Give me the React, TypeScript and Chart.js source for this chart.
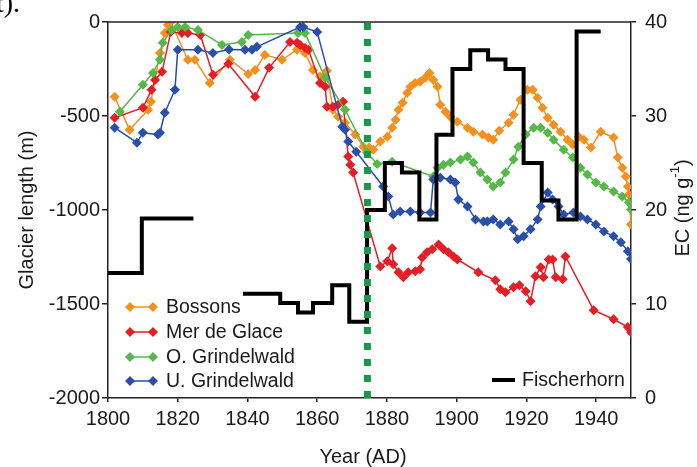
import React, { useEffect, useRef } from 'react';
import { Chart, registerables } from 'chart.js';
Chart.register(...registerables);

// ---------------- data ----------------
const bossonsYears = [1801.9, 1806.2, 1811.5, 1812.3, 1814.9, 1816.3, 1817.2, 1818, 1822.9, 1824.9, 1829.2, 1835, 1840.2, 1842.2, 1845, 1849.9, 1854.2, 1856.5, 1858.8, 1860.8, 1862.8, 1864.5, 1866, 1868, 1870.9, 1873.2, 1874.9, 1876.1, 1878.1, 1880.1, 1881.5, 1882.5, 1883.3, 1884.5, 1885.8, 1886.7, 1888.1, 1889.5, 1891, 1892.2, 1893.3, 1894.5, 1895.3, 1896.8, 1898.2, 1900.2, 1903.1, 1904.8, 1907.4, 1909.1, 1910.5, 1912.2, 1914.9, 1916.3, 1918.3, 1920.3, 1921.8, 1923.2, 1924.6, 1926.1, 1927.8, 1929.8, 1931.8, 1933.3, 1935, 1936.5, 1938.5, 1941.3, 1945, 1946.2, 1947.5, 1948.5, 1949.1, 1949.4, 1950];
const bossonsLength = [-398, -573, -467, -424, -165, -58, -16, 0, -201, -201, -324, -201, -276, -255, -175, -201, -148, -165, -255, -290, -259, -467, -504, -536, -599, -663, -668, -679, -636, -610, -562, -520, -467, -430, -377, -345, -324, -318, -297, -271, -308, -345, -440, -477, -504, -530, -562, -584, -599, -615, -626, -578, -536, -493, -414, -361, -361, -403, -456, -509, -546, -584, -626, -652, -610, -626, -668, -584, -615, -721, -775, -822, -875, -918, -1077];

const merYears = [1801.9, 1810, 1812.5, 1813.5, 1815.5, 1818, 1821.2, 1822.9, 1826.5, 1830.1, 1834.5, 1842.2, 1846.2, 1852.2, 1854.2, 1855.1, 1856.5, 1857.5, 1860.8, 1862.3, 1862.8, 1864.5, 1866, 1867.4, 1868.9, 1869.5, 1870.3, 1878.1, 1880.1, 1881.5, 1881.8, 1883.3, 1884.7, 1886.1, 1888.1, 1889.5, 1890.1, 1891.5, 1893, 1894.8, 1896.2, 1897.6, 1899.1, 1900.2, 1906.2, 1911.1, 1912.5, 1914, 1916.3, 1918, 1919.8, 1921.2, 1922.6, 1924.1, 1924.9, 1926.4, 1927.5, 1928.4, 1930.4, 1931.2, 1939.3, 1945, 1949.1, 1950];
const merLength = [-509, -456, -361, -308, -265, -53, -58, -58, -69, -281, -222, -398, -244, -106, -111, -122, -138, -148, -324, -345, -451, -451, -440, -424, -716, -759, -801, -1300, -1273, -1204, -1289, -1331, -1358, -1331, -1326, -1315, -1252, -1225, -1209, -1183, -1209, -1225, -1247, -1263, -1331, -1374, -1422, -1438, -1411, -1400, -1432, -1485, -1352, -1305, -1358, -1263, -1263, -1358, -1369, -1247, -1533, -1581, -1623, -1650];

const oGrinYears = [1803.4, 1810, 1812.9, 1814.9, 1815.7, 1818.3, 1820, 1822.1, 1825.8, 1832.7, 1838.4, 1840.2, 1854.5, 1856.5, 1862.3, 1868, 1874.3, 1877.2, 1881.5, 1893.3, 1894.5, 1896.2, 1898.2, 1901.1, 1903.1, 1904.8, 1906.8, 1908.8, 1910.5, 1912.5, 1914, 1916.3, 1917.7, 1919.8, 1922.1, 1924.1, 1926.1, 1927.8, 1930.7, 1933.3, 1935.5, 1937.5, 1939.9, 1942.2, 1945, 1947.5, 1949.4, 1950];
const oGrinLength = [-477, -334, -271, -201, -111, -42, -27, -27, -42, -122, -106, -69, -58, -58, -297, -467, -695, -755, -743, -822, -775, -759, -748, -732, -716, -748, -801, -838, -875, -854, -801, -732, -663, -599, -562, -562, -589, -626, -679, -721, -775, -811, -854, -875, -901, -928, -960, -997];

const uGrinYears = [1801.9, 1808.3, 1810, 1814.3, 1814.9, 1816.3, 1819.2, 1820, 1825.8, 1830.1, 1834.7, 1839.3, 1841.3, 1842.7, 1855.1, 1856, 1860, 1867.2, 1868, 1868.9, 1871.2, 1878.9, 1880.4, 1881.8, 1883.8, 1886.7, 1889.5, 1892.5, 1893.3, 1895.3, 1898.2, 1899.6, 1900.5, 1903.1, 1905.4, 1907.7, 1908.8, 1910.5, 1912.5, 1914.9, 1916.3, 1917.5, 1919.2, 1921.2, 1923.2, 1924.1, 1926.1, 1927.5, 1929.2, 1930.7, 1933.5, 1935.5, 1937.5, 1939.9, 1942.2, 1945, 1947.1, 1949.1, 1950];
const uGrinLength = [-562, -642, -589, -599, -589, -483, -361, -148, -148, -165, -146, -148, -148, -132, -27, -27, -53, -557, -573, -636, -690, -875, -928, -1024, -1008, -1008, -1013, -1013, -838, -828, -838, -854, -944, -981, -1050, -1061, -1061, -1050, -1077, -1061, -1103, -1156, -1140, -1103, -1050, -981, -907, -944, -981, -1024, -1013, -1034, -1050, -1077, -1114, -1140, -1172, -1220, -1260];

// Fischerhorn EC (step series, value holds until next year; null = gap)
const ecYears = [1800, 1809.7, 1824.5, 1830, 1838.7, 1849.4, 1854.5, 1858.8, 1864.3, 1869.2, 1874.3, 1879.4, 1884.3, 1889.3, 1894.2, 1898.8, 1903.9, 1909, 1914, 1919.2, 1924.4, 1929.2, 1934.4, 1941.3];
const ecValues = [13.3, 19.1, 19.1, null, 11.1, 10.1, 9.1, 10.1, 12, 8.1, 20, 25, 24, 19, 28, 35, 37, 36, 35, 25, 21, 19, 39, 39];

const markerYear = 1874.4;

const xTicks = [1800, 1820, 1840, 1860, 1880, 1900, 1920, 1940];
const yTicks = [-2000, -1500, -1000, -500, 0];
const y2Ticks = [0, 10, 20, 30, 40];

const seriesNames = ['Bossons', 'Mer de Glace', 'O. Grindelwald', 'U. Grindelwald'];
const seriesColors = ['#F4901E', '#E41E26', '#55B848', '#2A4FA8'];

// ---------------- chart ----------------
const FONT = '"Liberation Sans", Arial, sans-serif';
const TXT = '#1a1a1a';

const zip = (xs: number[], ys: (number | null)[]) => xs.map((x, i) => ({ x, y: ys[i] }));

function drawDiamond(ctx: CanvasRenderingContext2D, x: number, y: number, r: number) {
  ctx.beginPath();
  ctx.moveTo(x, y - r);
  ctx.lineTo(x + r, y);
  ctx.lineTo(x, y + r);
  ctx.lineTo(x - r, y);
  ctx.closePath();
  ctx.fill();
}

const decorPlugin = {
  id: 'decor',
  afterDatasetsDraw(chart: any) {
    const { ctx, chartArea, scales } = chart;
    const xp = scales.x.getPixelForValue(markerYear);
    ctx.save();
    ctx.strokeStyle = '#17994A';
    ctx.lineWidth = 7;
    ctx.setLineDash([7, 9]);
    ctx.beginPath();
    ctx.moveTo(xp, chartArea.top + 1);
    ctx.lineTo(xp, chartArea.bottom);
    ctx.stroke();
    ctx.restore();
  },
  afterDraw(chart: any) {
    const { ctx, chartArea } = chart;
    ctx.save();
    // top frame line
    ctx.strokeStyle = '#222';
    ctx.lineWidth = 1.5;
    ctx.beginPath();
    ctx.moveTo(chartArea.left, chartArea.top);
    ctx.lineTo(chartArea.right, chartArea.top);
    ctx.stroke();

    // axis titles
    ctx.fillStyle = TXT;
    ctx.font = `20px ${FONT}`;
    ctx.textAlign = 'center';
    ctx.textBaseline = 'middle';
    ctx.fillText('Year (AD)', 363, 457);

    ctx.save();
    ctx.translate(27, 210);
    ctx.rotate(-Math.PI / 2);
    ctx.fillText('Glacier length (m)', 0, 0);
    ctx.restore();

    // right title with superscript
    ctx.save();
    ctx.translate(683, 208);
    ctx.rotate(-Math.PI / 2);
    const main = 'EC (ng g';
    const sup = '-1';
    const close = ')';
    ctx.font = `20px ${FONT}`;
    const wMain = ctx.measureText(main).width;
    const wClose = ctx.measureText(close).width;
    ctx.font = `13px ${FONT}`;
    const wSup = ctx.measureText(sup).width;
    const total = wMain + wSup + wClose;
    let cx = -total / 2;
    ctx.textAlign = 'left';
    ctx.font = `20px ${FONT}`;
    ctx.fillText(main, cx, 0);
    cx += wMain;
    ctx.font = `13px ${FONT}`;
    ctx.fillText(sup, cx, -8);
    cx += wSup;
    ctx.font = `20px ${FONT}`;
    ctx.fillText(close, cx, 0);
    ctx.restore();

    // legend for glaciers
    const ly = [307, 332, 357, 381];
    ctx.font = `19.5px ${FONT}`;
    ctx.textAlign = 'left';
    ctx.textBaseline = 'middle';
    seriesNames.forEach((name, i) => {
      const c = seriesColors[i];
      ctx.strokeStyle = c;
      ctx.fillStyle = c;
      ctx.lineWidth = 1.5;
      ctx.beginPath();
      ctx.moveTo(130, ly[i]);
      ctx.lineTo(153, ly[i]);
      ctx.stroke();
      drawDiamond(ctx, 130, ly[i], 5);
      drawDiamond(ctx, 153, ly[i], 5);
      ctx.fillStyle = TXT;
      ctx.fillText(name, 166, ly[i] + 1);
    });

    // Fischerhorn legend
    ctx.strokeStyle = '#000';
    ctx.lineWidth = 4;
    ctx.beginPath();
    ctx.moveTo(492, 380);
    ctx.lineTo(515, 380);
    ctx.stroke();
    ctx.fillStyle = TXT;
    ctx.fillText('Fischerhorn', 522, 381);

    // stray caption fragment at top-left
    ctx.font = `28px "Liberation Serif", serif`;
    ctx.textBaseline = 'alphabetic';
    ctx.fillStyle = '#000';
    ctx.fillText('t).', -4, 12);
    ctx.restore();
  },
};

export default function App() {
  const ref = useRef<HTMLCanvasElement>(null);
  useEffect(() => {
    const glacier = (i: number, xs: number[], ys: number[], order: number) => ({
      label: seriesNames[i],
      data: zip(xs, ys),
      yAxisID: 'y',
      borderColor: seriesColors[i],
      backgroundColor: seriesColors[i],
      borderWidth: 1.5,
      pointStyle: 'rectRot',
      pointRadius: 5,
      pointBorderWidth: 0,
      pointBackgroundColor: seriesColors[i],
      pointBorderColor: seriesColors[i],
      tension: 0,
      order,
    });
    const tickFont = { family: FONT, size: 20 };
    const chart = new Chart(ref.current as HTMLCanvasElement, {
      type: 'line',
      data: {
        datasets: [
          glacier(0, bossonsYears, bossonsLength, 5),
          glacier(1, merYears, merLength, 4),
          glacier(2, oGrinYears, oGrinLength, 3),
          glacier(3, uGrinYears, uGrinLength, 2),
          {
            label: 'Fischerhorn',
            data: zip(ecYears, ecValues),
            yAxisID: 'y2',
            borderColor: '#000',
            backgroundColor: '#000',
            borderWidth: 4,
            pointRadius: 0,
            stepped: 'before',
            spanGaps: false,
            borderJoinStyle: 'miter',
            borderCapStyle: 'butt',
            order: 1,
          } as any,
        ],
      },
      options: {
        responsive: false,
        animation: false,
        devicePixelRatio: 1,
        events: [],
        layout: { padding: { top: 22, left: 0, right: 0, bottom: 0 } },
        plugins: { legend: { display: false }, tooltip: { enabled: false } },
        scales: {
          x: {
            type: 'linear',
            position: 'bottom',
            min: 1800,
            max: 1950,
            afterFit: (s: any) => { s.height = 69; },
            afterBuildTicks: (s: any) => { s.ticks = xTicks.map((v) => ({ value: v })); },
            ticks: { font: tickFont, color: TXT, padding: 5, maxRotation: 0, autoSkip: false, callback: (v: any) => String(v) },
            grid: { display: true, drawOnChartArea: false, drawTicks: true, tickLength: 4, color: '#222', lineWidth: 1.5 },
            border: { display: true, color: '#222', width: 1.5 },
          },
          y: {
            type: 'linear',
            position: 'left',
            min: -2000,
            max: 0,
            afterFit: (s: any) => { s.width = 108; },
            afterBuildTicks: (s: any) => { s.ticks = yTicks.map((v) => ({ value: v })); },
            ticks: { font: tickFont, color: TXT, padding: 2, autoSkip: false, callback: (v: any) => String(v) },
            grid: { display: true, drawOnChartArea: false, drawTicks: true, tickLength: 6, color: '#222', lineWidth: 1.5 },
            border: { display: true, color: '#222', width: 1.5 },
          },
          y2: {
            type: 'linear',
            position: 'right',
            min: 0,
            max: 40,
            afterFit: (s: any) => { s.width = 66; },
            afterBuildTicks: (s: any) => { s.ticks = y2Ticks.map((v) => ({ value: v })); },
            ticks: { font: tickFont, color: TXT, padding: 9, autoSkip: false, callback: (v: any) => String(v) },
            grid: { display: true, drawOnChartArea: false, drawTicks: true, tickLength: 5, color: '#222', lineWidth: 1.5 },
            border: { display: true, color: '#222', width: 1.5 },
          },
        },
      } as any,
      plugins: [decorPlugin],
    });
    return () => chart.destroy();
  }, []);

  return (
    <div style={{ position: 'fixed', left: 0, top: 0, width: 697, height: 467, background: '#fff' }}>
      <canvas ref={ref} width={697} height={467} style={{ display: 'block', width: 697, height: 467 }} />
    </div>
  );
}
